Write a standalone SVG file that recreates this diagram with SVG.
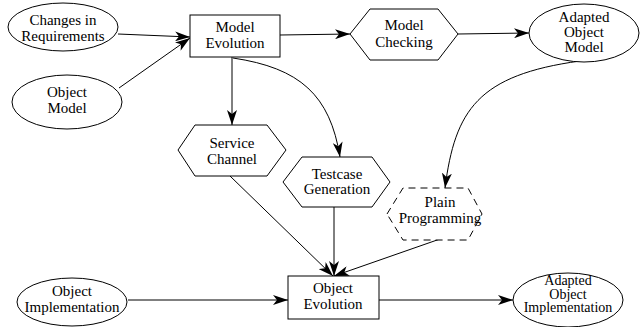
<svg xmlns="http://www.w3.org/2000/svg" width="640" height="327" viewBox="0 0 640 327">
<style>
.n{fill:#fff;stroke:#000;stroke-width:1}
.d{fill:#fff;stroke:#000;stroke-width:1;stroke-dasharray:7,5}
text{font-family:"Liberation Serif","Times New Roman",serif;font-size:15px;text-anchor:middle;fill:#000}
.s{font-size:14px}
.e{fill:none;stroke:#000;stroke-width:1;marker-end:url(#a)}
</style>
<defs>
<marker id="a" markerUnits="userSpaceOnUse" markerWidth="16" markerHeight="10" refX="15" refY="5" orient="auto">
<path d="M0,0 L15,5 L0,10 L4,5 z" fill="#000"/>
</marker>
</defs>
<rect width="640" height="327" fill="#fff"/>
<g id="connectors">
<path class="e" d="M118,34 L190,37"/>
<path class="e" d="M119,88 L190,38"/>
<path class="e" d="M280,35 L350,34"/>
<path class="e" d="M458,34 L529,33"/>
<path class="e" d="M232,57 L232,125"/>
<path class="e" d="M233,58 C300,68 330,95 340,157"/>
<path class="e" d="M580,61 C478,75 455,110 445,188"/>
<path class="e" d="M230,176 L333,276"/>
<path class="e" d="M334,207 L334,276"/>
<path class="e" d="M440,239 L334,276"/>
<path class="e" d="M128,300 L288,300"/>
<path class="e" d="M379,300 L513,300"/>
</g>
<g id="changes">
<ellipse class="n" cx="63" cy="27" rx="55" ry="24"/>
<text x="63" y="25">Changes in</text>
<text x="63" y="41">Requirements</text>
</g>
<g id="objectModel">
<ellipse class="n" cx="67" cy="102" rx="55" ry="27"/>
<text x="67" y="97">Object</text>
<text x="67" y="113">Model</text>
</g>
<g id="modelEvolution">
<rect class="n" x="190" y="15" width="90" height="42"/>
<text x="235" y="32">Model</text>
<text x="235" y="48">Evolution</text>
</g>
<g id="modelChecking">
<polygon class="n" points="350,34 370,9 438,9 458,34 438,60 370,60"/>
<text x="404" y="30">Model</text>
<text x="404" y="47">Checking</text>
</g>
<g id="adaptedObjectModel">
<ellipse class="n" cx="584" cy="33" rx="55" ry="29"/>
<text x="584" y="22">Adapted</text>
<text x="584" y="37">Object</text>
<text x="584" y="52">Model</text>
</g>
<g id="serviceChannel">
<polygon class="n" points="178,150 195,125 267,125 286,150 267,176 195,176"/>
<text x="232" y="148">Service</text>
<text x="232" y="164">Channel</text>
</g>
<g id="testcaseGeneration">
<polygon class="n" points="283,182 302,157 372,157 390,182 372,207 302,207"/>
<text x="337" y="179">Testcase</text>
<text x="337" y="194">Generation</text>
</g>
<g id="plainProgramming">
<polygon class="d" points="387,214 403,188 468,188 482,214 468,240 403,240"/>
<text x="440" y="207">Plain</text>
<text x="440" y="223">Programming</text>
</g>
<g id="objectEvolution">
<rect class="n" x="288" y="276" width="91" height="43"/>
<text x="333" y="293">Object</text>
<text x="333" y="309">Evolution</text>
</g>
<g id="objectImplementation">
<ellipse class="n" cx="72" cy="302" rx="55" ry="24"/>
<text x="72" y="296">Object</text>
<text x="72" y="312">Implementation</text>
</g>
<g id="adaptedObjectImplementation">
<ellipse class="n" cx="568" cy="300" rx="55" ry="27"/>
<text class="s" x="568" y="285">Adapted</text>
<text class="s" x="568" y="299">Object</text>
<text class="s" x="568" y="312">Implementation</text>
</g>
</svg>
